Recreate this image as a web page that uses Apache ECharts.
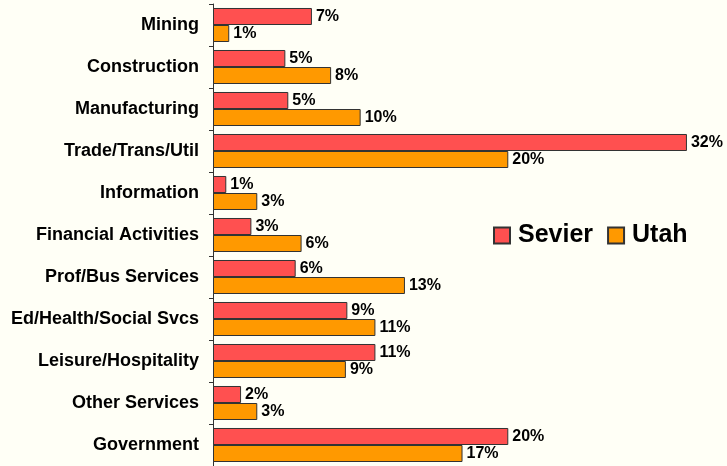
<!DOCTYPE html>
<html>
<head>
<meta charset="utf-8">
<script src="https://cdn.jsdelivr.net/npm/echarts@6/dist/echarts.min.js"></script>
<style>
    html, body { margin: 0; padding: 0; background: #fffff6; }
    #chart { width: 727px; height: 466px; }
</style>
</head>
<body>
<div id="chart"></div>
<script>
var categories = ['Mining', 'Construction', 'Manufacturing', 'Trade/Trans/Util', 'Information',
    'Financial Activities', 'Prof/Bus Services', 'Ed/Health/Social Svcs', 'Leisure/Hospitality',
    'Other Services', 'Government'];
var sevierData = [6.7, 4.9, 5.1, 32.1, 0.9, 2.6, 5.6, 9.1, 11.0, 1.9, 20.0];
var utahData = [1.1, 8.0, 10.0, 20.0, 3.0, 6.0, 13.0, 11.0, 9.0, 3.0, 16.9];
var seriesNames = ['Sevier', 'Utah'];

function renderChart() {
    var myChart = echarts.init(document.getElementById('chart'));
    var labelStyle = {
        show: true,
        position: 'right',
        distance: 4,
        color: '#000',
        fontFamily: 'Arial, "Liberation Sans", sans-serif',
        fontWeight: 'bold',
        fontSize: 16,
        formatter: function (p) {
            return Math.round(p.value) + '%';
        }
    };
    var option = {
        backgroundColor: '#fffff6',
        animation: false,
        legend: {
            data: seriesNames,
            left: 488,
            top: 218,
            itemWidth: 16,
            itemHeight: 16,
            itemGap: 14,
            icon: 'rect',
            textStyle: {
                color: '#000',
                fontFamily: 'Arial, "Liberation Sans", sans-serif',
                fontWeight: 'bold',
                fontSize: 25,
                padding: [0, 0, 0, 3]
            }
        },
        grid: {
            left: 213,
            top: 4,
            right: 12,
            bottom: 0,
            containLabel: false
        },
        xAxis: {
            type: 'value',
            min: 0,
            max: 34,
            show: false,
            splitLine: { show: false }
        },
        yAxis: {
            type: 'category',
            data: categories,
            inverse: true,
            axisLine: {
                show: true,
                lineStyle: { color: '#333', width: 1 }
            },
            axisTick: {
                show: true,
                length: 4,
                lineStyle: { color: '#333' }
            },
            axisLabel: {
                margin: 14,
                color: '#000',
                fontFamily: 'Arial, "Liberation Sans", sans-serif',
                fontWeight: 'bold',
                fontSize: 18
            }
        },
        series: [{
            name: seriesNames[0],
            type: 'bar',
            data: sevierData,
            barGap: '0%',
            barCategoryGap: '19%',
            itemStyle: {
                color: '#ff5050',
                borderColor: '#333',
                borderWidth: 1
            },
            label: labelStyle
        }, {
            name: seriesNames[1],
            type: 'bar',
            data: utahData,
            barGap: '0%',
            barCategoryGap: '19%',
            itemStyle: {
                color: '#ff9900',
                borderColor: '#333',
                borderWidth: 1
            },
            label: labelStyle
        }]
    };
    myChart.setOption(option);
}

renderChart();
</script>
</body>
</html>
